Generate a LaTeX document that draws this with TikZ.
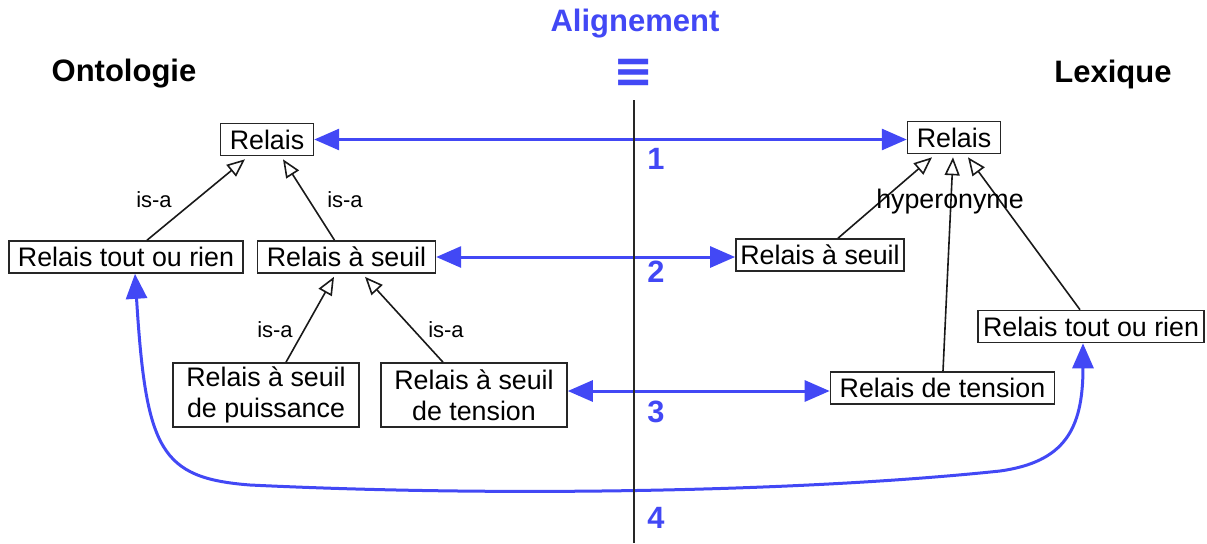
\documentclass[tikz,border=0pt]{standalone}
\usepackage{fontspec}
\setmainfont{Liberation Sans}
\newfontfamily\symfont{DejaVu Sans}
\usetikzlibrary{arrows.meta,calc}
\definecolor{alblue}{RGB}{66,72,245}
\tikzset{
  box/.style={draw=black!85, line width=0.8pt, fill=white, inner xsep=4.6pt, inner ysep=0pt,
    minimum height=16pt, font=\fontsize{13.4}{15.6}\selectfont, align=center},
  box2/.style={box, minimum height=32pt, minimum width=93pt},
  isa/.style={draw=black!90, line width=0.8pt, -{Triangle[open,length=9pt,width=7.5pt]}},
  islabel/.style={font=\fontsize{11}{12}\selectfont, inner sep=0pt},
  align2/.style={draw=alblue, line width=1.5pt, {Triangle[length=12.5pt,width=10.5pt]}-{Triangle[length=12.5pt,width=10.5pt]}},
  title/.style={font=\bfseries\fontsize{15.5}{18}\selectfont, inner sep=0pt},
  num/.style={font=\bfseries\fontsize{15.4}{18}\selectfont, text=alblue, inner sep=0pt}
}
\begin{document}
\begin{tikzpicture}[x=0.5pt,y=-0.5pt]
\useasboundingbox (0,0) rectangle (1207,543);
% titles
\node[title] (tOnto) at (124,74) {Ontologie};
\node[title] (tLex) at (1113,74) {Lexique};
\node[title, text=alblue] (tAlign) at (635,24) {Alignement};
\node[inner sep=0pt, text=alblue, font=\symfont\bfseries\fontsize{24}{26}\selectfont] (equiv) at (634,73) {≡};
% nodes
\node[box] (oR) at (267,139.5) {Relais};
\node[box] (lR) at (954,137.5) {Relais};
\node[box] (oTout) at (126,257) {Relais tout ou rien};
\node[box] (oSeuil) at (346.5,257) {Relais à seuil};
\node[box, inner xsep=2.2pt] (lSeuil) at (820,255) {Relais à seuil};
\node[box, inner xsep=2.6pt] (lTout) at (1091,326.5) {Relais tout ou rien};
\node[box2] (oPuis) at (266,395) {Relais à seuil\\de puissance};
\node[box2] (oTens) at (474,395) {Relais à seuil\\de tension};
\node[box] (lTens) at (942.5,388) {Relais de tension};
% is-a edges
\draw[isa] ($(oTout.north)+(21,0)$) -- ($(oR.south)+(-22,3)$);
\draw[isa] ($(oSeuil.north)+(-12,0)$) -- ($(oR.south)+(16,3)$);
\draw[isa] ($(oPuis.north)+(20,0)$) -- ($(oSeuil.south)+(-12.5,3)$);
\draw[isa] ($(oTens.north)+(-31,0)$) -- ($(oSeuil.south)+(18.5,3)$);
\node[islabel] (l1) at (154,200) {is-a};
\node[islabel] (l2) at (345,200) {is-a};
\node[islabel] (l3) at (275,330) {is-a};
\node[islabel] (l4) at (446,330) {is-a};
% hyperonyme edges
\draw[isa] ($(lSeuil.north)+(18,0)$) -- ($(lR.south)+(-22,3)$);
\draw[isa] ($(lTens.north)+(0.5,0)$) -- ($(lR.south)+(-1,3)$);
\draw[isa] ($(lTout.north)+(-11,0)$) -- ($(lR.south)+(14,3)$);
\node[inner sep=0pt, font=\fontsize{13.4}{15.6}\selectfont] (hyp) at (950,202) {hyperonyme};
% alignment arrows
\draw[align2] (oR.east) -- (oR.east -| lR.west);
\draw[align2] (oSeuil.east) -- (oSeuil.east -| lSeuil.west);
\coordinate (a3) at ($(oTens.east)+(0,-4)$);
\draw[align2] (a3) -- (a3 -| lTens.west);
\coordinate (a4s) at ($(oTout.south)+(9,0)$);
\coordinate (a4e) at ($(lTout.south)+(-8,0)$);
\draw[align2] (a4s) .. controls (146,450) and (160,478) .. (250,485)
  .. controls (500,497) and (800,492) .. (1000,471)
  .. controls (1064,462) and (1083,430) .. (a4e);
% separator
\coordinate (vtop) at (634,100);
\coordinate (vbot) at (634,543);
\draw[black!85, line width=1pt] (vtop) -- (vbot);
% numbers
\node[num] (n1) at (656,159) {1};
\node[num] (n2) at (656,272) {2};
\node[num] (n3) at (656,412) {3};
\node[num] (n4) at (656,518) {4};
\end{tikzpicture}
\end{document}
